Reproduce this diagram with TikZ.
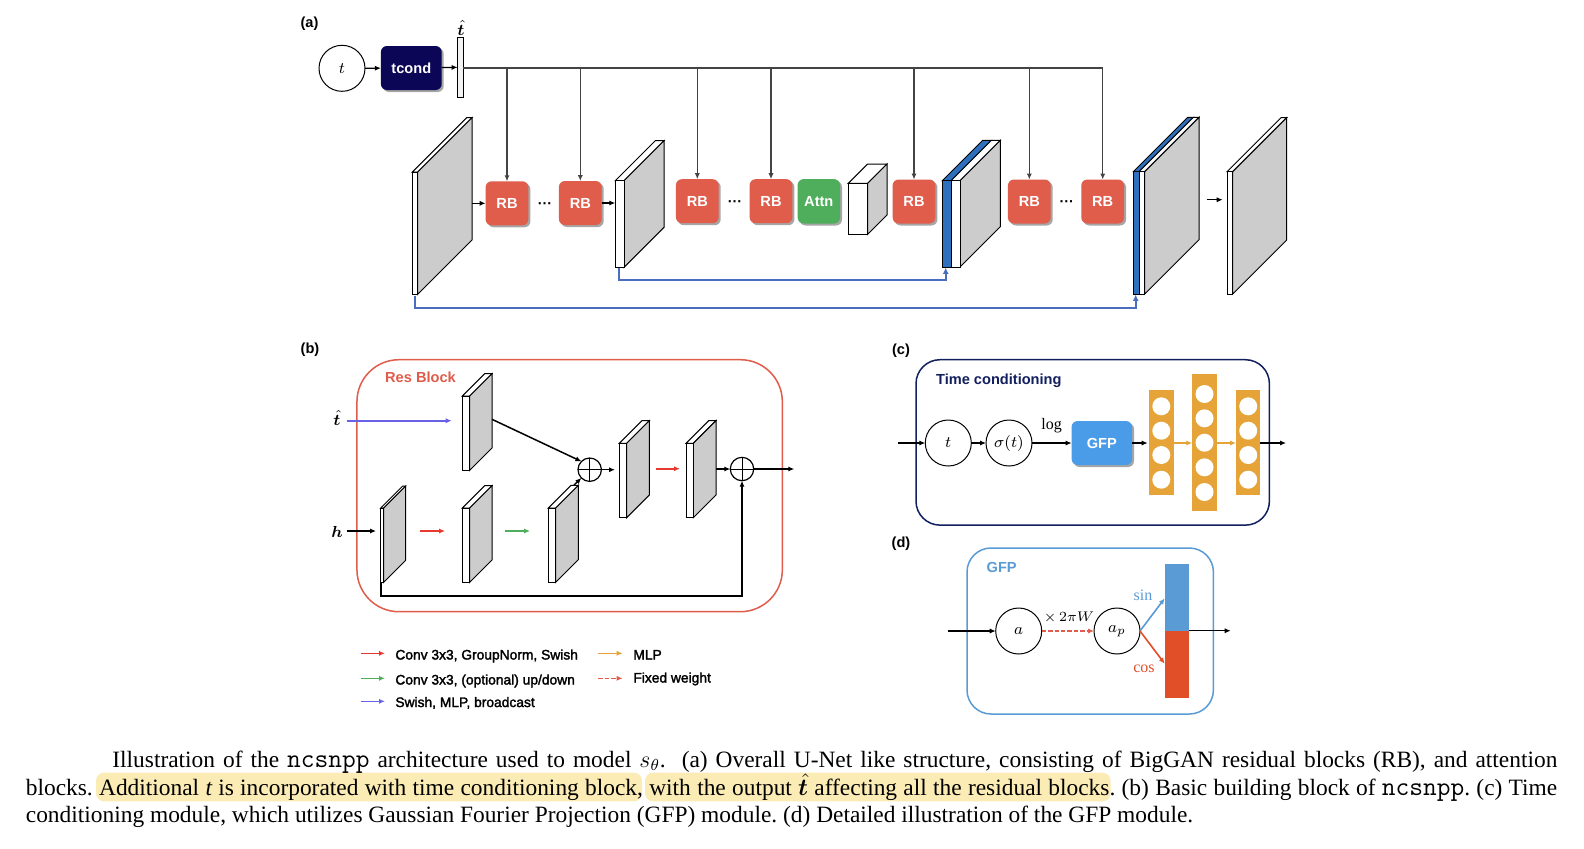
\documentclass[tikz,border=0pt]{standalone}
\usepackage{amsmath,bm}
\usepackage{fontspec}
\setmainfont{Liberation Serif}
\setsansfont{Liberation Sans}
\setmonofont[Scale=1.14]{Latin Modern Mono}
\newfontfamily\legfont[FakeBold=2]{Liberation Sans}
\usetikzlibrary{arrows.meta,shadows}
\definecolor{rbred}{HTML}{E05C4B}
\definecolor{attngreen}{HTML}{4EAE5B}
\definecolor{navy}{HTML}{0B0655}
\definecolor{navyline}{HTML}{12205F}
\definecolor{skipblue}{HTML}{4A6DBE}
\definecolor{slabblue}{HTML}{2F70BE}
\definecolor{slabgray}{HTML}{CCCCCC}
\definecolor{violetb}{HTML}{6A62E6}
\definecolor{arrred}{HTML}{E8392E}
\definecolor{arrgreen}{HTML}{4EAE5B}
\definecolor{mlporange}{HTML}{E6A337}
\definecolor{gfpblue}{HTML}{4A9BE8}
\definecolor{gfpline}{HTML}{5B9BD5}
\definecolor{cosred}{HTML}{E04F28}
\definecolor{hl}{HTML}{FBEBB5}
\definecolor{lineg}{HTML}{444444}
\tikzset{
  x=0.5pt,y=-0.5pt,
  arr/.style={-{Latex[length=3pt,width=2.6pt]},line width=0.6pt},
  arrthick/.style={-{Latex[length=3pt,width=2.6pt]},line width=0.75pt},
  arrcol/.style={-{Latex[length=3pt,width=2.6pt]},line width=0.8pt,draw=#1},
  plainbox/.style={rectangle,inner sep=0pt,outer sep=0pt},
  rbshadow/.style={drop shadow={shadow xshift=1pt,shadow yshift=-1pt,opacity=0.35,fill=black}},
  sbox/.style={plainbox,rounded corners=3pt,text=white,font=\fontsize{7.3}{8}\selectfont\bfseries\sffamily,rbshadow},
  rbbox/.style={sbox,fill=rbred,minimum width=21.4pt,minimum height=22pt},
  circ/.style={circle,draw=black,line width=0.5pt,minimum size=23pt,inner sep=0pt,outer sep=0pt,font=\fontsize{8}{9}\selectfont},
  opl/.style={circle,draw=black,line width=0.6pt,minimum size=11.7pt,inner sep=0pt,outer sep=0pt},
  panel/.style={font=\fontsize{7.3}{8}\selectfont\bfseries\sffamily,inner sep=0pt},
  bigbox/.style={plainbox,rounded corners=#1,line width=0.75pt},
  leg/.style={font=\fontsize{6.9}{8}\selectfont\legfont,anchor=base west,inner sep=0pt},
  neuron/.style={circle,fill=white,minimum size=9pt,inner sep=0pt},
  mlpcol/.style={plainbox,fill=mlporange,minimum width=12.2pt},
  capline/.style={anchor=base west,inner sep=0pt,font=\fontsize{11.7}{13}\selectfont\frenchspacing},
  hlbox/.style={plainbox,fill=hl,rounded corners=4pt,minimum height=14.3pt},
  dotsn/.style={anchor=base,inner sep=0pt,font=\fontsize{7.2}{8}\selectfont\bfseries\sffamily},
}
% name, x-left, front width, y-top, front height, depth
\newcommand{\slab}[6]{%
  \begin{scope}[shift={(#2,#4)},line width=0.5pt,line join=miter]
    \draw[fill=white] (0,0) -- ({#6},{-(#6)}) -- ({#3+#6},{-(#6)}) -- (#3,0) -- cycle;
    \draw[fill=slabgray] (#3,0) -- ({#3+#6},{-(#6)}) -- ({#3+#6},{#5-(#6)}) -- (#3,#5) -- cycle;
    \node[plainbox,draw=black,line width=0.5pt,fill=white,anchor=north west,minimum width=#3*0.5pt,minimum height=#5*0.5pt] (#1) at (0,0) {};
  \end{scope}}
% slab with blue layer in front: name, x-left, blue w, white w, y, h, depth
\newcommand{\bslab}[7]{%
  \begin{scope}[shift={(#2,#5)},line width=0.5pt,line join=miter]
    \draw[fill=slabblue] (0,0) -- ({#7},{-(#7)}) -- ({#3+#7},{-(#7)}) -- (#3,0) -- cycle;
    \draw[fill=white] (#3,0) -- ({#3+#7},{-(#7)}) -- ({#3+#4+#7},{-(#7)}) -- ({#3+#4},0) -- cycle;
    \draw[fill=slabgray] ({#3+#4},0) -- ({#3+#4+#7},{-(#7)}) -- ({#3+#4+#7},{#6-(#7)}) -- ({#3+#4},#6) -- cycle;
    \node[plainbox,draw=black,line width=0.5pt,fill=slabblue,anchor=north west,minimum width=#3*0.5pt,minimum height=#6*0.5pt] (#1) at (0,0) {};
    \node[plainbox,draw=black,line width=0.5pt,fill=white,anchor=north west,minimum width=#4*0.5pt,minimum height=#6*0.5pt] (#1w) at (#3,0) {};
  \end{scope}}
\newcommand{\oplusn}[3]{%
  \node[opl] (#1) at (#2,#3) {};
  \draw[line width=0.5pt] (#1.north) -- (#1.south) (#1.west) -- (#1.east);}
\begin{document}
\begin{tikzpicture}
\useasboundingbox (0,0) rectangle (1584,848);
\fill[white] (0,0) rectangle (1584,848);

%%% ---------- panel (a)
\node[panel] (la) at (309.5,23.5) {(a)};
\node[circ] (t0) at (342,68.3) {$t$};
\node[sbox,fill=navy,minimum width=30.4pt,minimum height=22pt] (tcond) at (411.3,68) {tcond};
\node[plainbox,draw=black,line width=0.5pt,fill=white!95!black,minimum width=2.8pt,minimum height=30.3pt] (that) at (460.5,67.3) {};
\node[inner sep=0pt,font=\fontsize{8}{9}\selectfont] (thatl) at (461,28) {$\hat{\bm t}$};
\draw[arr] (t0) -- (tcond);
\draw[arr] (tcond) -- (that);

\slab{s1}{412.3}{5.4}{172}{122.3}{54.3}
\node[rbbox] (rb1) at (507,203.3) {RB};
\node[rbbox] (rb2) at (580.3,203) {RB};
\slab{s2}{615.3}{8.7}{180.7}{86.6}{40}
\node[rbbox] (rb3) at (697.3,201.2) {RB};
\node[rbbox] (rb4) at (771,201.2) {RB};
\node[sbox,fill=attngreen,minimum width=21.2pt,minimum height=22.2pt] (attn) at (818.8,201.3) {Attn};
\slab{s3}{848.3}{19.4}{183.3}{51}{19.3}
\node[rbbox] (rb5) at (914,201.5) {RB};
\bslab{s4}{942.3}{8.7}{9}{180.7}{86.3}{40.3}
\node[rbbox] (rb6) at (1029.3,201.5) {RB};
\node[rbbox] (rb7) at (1102.7,201.5) {RB};
\bslab{s5}{1133.3}{5.7}{5.7}{171.7}{122.3}{54.3}
\slab{s6}{1227}{5.7}{171.7}{122.3}{54}

\node[dotsn] (d1) at (545,208) {···};
\node[dotsn] (d2) at (735,206) {···};
\node[dotsn] (d3) at (1066.7,206.5) {···};

\coordinate (bar0) at (463.3,68);
\coordinate (barE) at (1102.7,68);
\draw[line width=0.6pt,lineg] (bar0) -- (barE);
\foreach \n/\x in {rb1/507,rb2/580.3,rb3/697.3,rb4/771,rb5/914,rb6/1029.3,rb7/1102.7}{
  \coordinate (tap-\n) at (\x,68);
  \draw[arr,lineg] (tap-\n) -- (\n.north);
}
\coordinate (s1o) at (472,203.3);
\draw[arr] (s1o) -- (rb1.west);
\coordinate (s2i) at (615.3,203);
\draw[arr] (rb2.east) -- (s2i);
\coordinate (o1) at (1206.7,199.7);
\coordinate (o2) at (1222.7,199.7);
\draw[arrthick] (o1) -- (o2);

\coordinate (sk1a) at (619.3,267.5);
\coordinate (sk1b) at (945.7,267.5);
\draw[-{Latex[length=3.2pt,width=3pt]},skipblue,line width=1pt] (sk1a) -- ++(0,12.2) -| (sk1b);
\coordinate (sk2a) at (415.3,295.5);
\coordinate (sk2b) at (1135.7,294.5);
\draw[-{Latex[length=3.2pt,width=3pt]},skipblue,line width=1pt] (sk2a) -- ++(0,12.5) -| (sk2b);

%%% ---------- panel (b)
\node[panel] (lb) at (310,349.5) {(b)};
\node[plainbox,bigbox=21pt,draw=rbred,minimum width=212.7pt,minimum height=126pt] (resb) at (569.65,485.7) {};
\node[panel,text=rbred] (resl) at (420.5,377.5) {Res Block};
\slab{b1}{462.3}{7.4}{396}{74.3}{22.3}
\slab{b2}{380.7}{3}{508}{74.3}{22}
\slab{b3}{462.3}{7.4}{508}{74.3}{22.3}
\slab{b4}{548.3}{7.4}{508}{74.3}{22.6}
\slab{b5}{619.3}{7.4}{443.3}{74.4}{22.6}
\slab{b6}{686}{7.3}{443.3}{74.4}{22.7}
\oplusn{p1}{589.7}{469.7}
\oplusn{p2}{742}{469}
\node[inner sep=0pt,font=\fontsize{8}{9}\selectfont] (lt) at (337,418) {$\hat{\bm t}$};
\node[inner sep=0pt,font=\fontsize{8}{9}\selectfont] (lh) at (337,531.7) {$\bm h$};

\coordinate (ta) at (346.7,420.7); \coordinate (tb) at (451.7,420.7);
\draw[arrcol=violetb] (ta) -- (tb);
\coordinate (ha) at (346.7,531); \coordinate (hb) at (376,531);
\draw[arrthick] (ha) -- (hb);
\coordinate (ra) at (420.3,531); \coordinate (rb) at (445,531);
\draw[arrcol=arrred] (ra) -- (rb);
\coordinate (ga) at (505,531); \coordinate (gb) at (530,531);
\draw[arrcol=arrgreen] (ga) -- (gb);
\coordinate (b1o) at (492,419.3);
\draw[arrthick] (b1o) -- (p1.north west);
\coordinate (b4o) at (574,485);
\draw[arrthick] (b4o) -- (p1.south west);
\coordinate (b5i) at (615,469.7);
\draw[arrthick] (p1.east) -- (b5i);
\coordinate (r2a) at (656,468.7); \coordinate (r2b) at (680,468.7);
\draw[arrcol=arrred] (r2a) -- (r2b);
\coordinate (b6o) at (716,469);
\draw[arrthick] (b6o) -- (p2.west);
\coordinate (pout) at (794.3,469);
\draw[arrthick] (p2.east) -- (pout);
\coordinate (skb) at (381.3,582.3);
\draw[-{Latex[length=3pt,width=2.6pt]},line width=0.85pt] (skb) -- (381.3,596.3) -| (p2.south);

%% legend
\foreach \n/\xa/\xb/\y/\c in {l1/360.7/385/653.3/arrred,l2/360.7/385/678.3/arrgreen,l3/360.7/385/701.3/violetb,l4/598.3/622.7/653.3/mlporange}{
  \coordinate (\n a) at (\xa,\y); \coordinate (\n b) at (\xb,\y);
  \draw[arrcol=\c] (\n a) -- (\n b);
}
\coordinate (l5a) at (598.3,678.3); \coordinate (l5b) at (622.7,678.3);
\draw[arrcol=rbred,dashed,dash pattern=on 2.2pt off 1pt] (l5a) -- (l5b);
\node[leg] (t1) at (395,659.5) {Conv 3x3, GroupNorm, Swish};
\node[leg] (t2) at (395,684.5) {Conv 3x3, (optional) up/down};
\node[leg] (t3) at (395,707) {Swish, MLP, broadcast};
\node[leg] (t4) at (633,659.5) {MLP};
\node[leg] (t5) at (633,682.5) {Fixed weight};

%%% ---------- panel (c)
\node[panel] (lc) at (901,350.5) {(c)};
\node[plainbox,bigbox=12pt,draw=navyline,minimum width=176.7pt,minimum height=82.7pt] (tcb) at (1092.7,442.4) {};
\node[panel,text=navyline,anchor=base west] (tcl) at (935.7,384) {Time conditioning};
\node[circ] (ct) at (948.3,443) {$t$};
\node[circ] (cs) at (1009,443) {$\sigma(t)$};
\node[sbox,fill=gfpblue,minimum width=30.2pt,minimum height=22pt] (cgfp) at (1101.8,443) {GFP};
\node[mlpcol,minimum height=52.2pt] (m1) at (1161.3,442.5) {};
\node[mlpcol,minimum height=68.7pt] (m2) at (1204.5,442.7) {};
\node[mlpcol,minimum height=52.2pt] (m3) at (1248.2,442.5) {};
\foreach \y in {406.3,430.7,455,479.7}{
  \node[neuron] (n1-\y) at (1161.3,\y) {};
  \node[neuron] (n3-\y) at (1248.2,\y) {};
}
\foreach \y in {394,418.3,442.7,467.3,492}{
  \node[neuron] (n2-\y) at (1204.5,\y) {};
}
\coordinate (cin) at (898.3,443);
\draw[arrthick] (cin) -- (ct);
\draw[arr] (ct) -- (cs);
\draw[arrthick] (cs) -- (cgfp);
\node[inner sep=0pt,font=\fontsize{8}{9}\selectfont] (logl) at (1051.7,426) {log};
\coordinate (m1i) at (1147.7,443);
\draw[arrthick] (cgfp) -- (m1i);
\coordinate (m1o) at (1173.7,443); \coordinate (m2i) at (1192.3,443);
\draw[arrcol=mlporange] (m1o) -- (m2i);
\coordinate (m2o) at (1216.7,443); \coordinate (m3i) at (1236,443);
\draw[arrcol=mlporange] (m2o) -- (m3i);
\coordinate (m3o) at (1260.3,443); \coordinate (cout) at (1286,443);
\draw[arrthick] (m3o) -- (cout);

%%% ---------- panel (d)
\node[panel] (ld) at (901,544) {(d)};
\node[plainbox,bigbox=12pt,draw=gfpline,minimum width=123.2pt,minimum height=83pt] (gb) at (1090.2,631) {};
\node[panel,text=gfpline] (gl) at (1001.7,567.7) {GFP};
\node[circ] (da) at (1018.7,631) {$a$};
\node[circ] (dp) at (1117,631) {$a_p$};
\node[plainbox,fill=gfpline,minimum width=12.2pt,minimum height=33.4pt] (bs) at (1176.8,597.6) {};
\node[plainbox,fill=cosred,minimum width=12.2pt,minimum height=33.4pt] (bc) at (1176.8,664.4) {};
\coordinate (din) at (947.7,631);
\draw[arrthick] (din) -- (da);
\draw[arrcol=rbred,dashed,dash pattern=on 2.2pt off 1pt] (da) -- (dp);
\node[inner sep=0pt,font=\fontsize{7.5}{9}\selectfont] (xl) at (1069,618) {$\times\,2\pi W$};
\coordinate (se) at (1164.7,598.3);
\coordinate (ce) at (1164.7,663.7);
\draw[arrcol=gfpline] (dp.east) -- (se);
\draw[arrcol=cosred] (dp.east) -- (ce);
\node[inner sep=0pt,text=gfpline,font=\fontsize{8}{9}\selectfont] (sinl) at (1143,595) {sin};
\node[inner sep=0pt,text=cosred,font=\fontsize{8}{9}\selectfont] (cosl) at (1144,668.3) {cos};
\coordinate (dob) at (1189,630.7); \coordinate (dout) at (1230.7,630.7);
\draw[arrthick] (dob) -- (dout);

%%% ---------- caption
\node[hlbox,minimum width=273pt] (h1) at (369,787) {};
\node[hlbox,minimum width=232.7pt] (h2) at (877.8,787) {};
\node[capline] (c1) at (112,767) {\hbox to 722.5pt{Illustration of the \texttt{ncsnpp} architecture used to model $s_\theta$.\ \ (a) Overall U-Net like structure, consisting of BigGAN residual blocks (RB), and attention}};
\node[capline] (c2) at (25.5,795) {\hbox to 765.7pt{blocks. Additional {\itshape t} is incorporated with time conditioning block, with the output $\hat{\bm t}$ affecting all the residual blocks. (b) Basic building block of \texttt{ncsnpp}. (c) Time}};
\node[capline] (c3) at (25.5,822.7) {conditioning module, which utilizes Gaussian Fourier Projection (GFP) module. (d) Detailed illustration of the GFP module.};
\end{tikzpicture}
\end{document}
